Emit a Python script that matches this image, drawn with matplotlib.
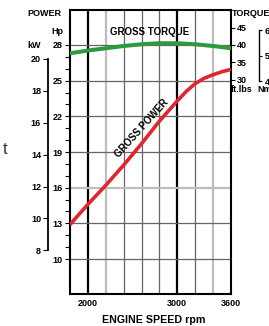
import matplotlib
matplotlib.use("Agg")
import matplotlib.pyplot as plt

plt.rcParams['font.family'] = ['Liberation Sans', 'DejaVu Sans']
plt.rcParams['font.weight'] = 'bold'

# data
power_rpm = [1800, 2000, 2200, 2400, 2600, 2800, 3000, 3100, 3200, 3300, 3400, 3500, 3600]
power_hp = [12.9, 14.6, 16.2, 17.9, 19.7, 21.6, 23.3, 24.1, 24.75, 25.2, 25.5, 25.75, 25.95]
torque_rpm = [1800, 2000, 2200, 2400, 2600, 2800, 3000, 3200, 3400, 3600]
torque_ftlb = [37.6, 38.4, 39.05, 39.7, 40.2, 40.5, 40.5, 40.2, 39.7, 39.05]

rpm_ticks = [2000, 3000, 3600]
hp_ticks = [10, 13, 16, 19, 22, 25, 28]
kw_ticks = [8, 10, 12, 14, 16, 18, 20]
ftlb_ticks = [30, 35, 40, 45]
nm_ticks = [40, 50, 60]
nm_labels = ['40', '50', '60']

grid_black = [2000, 3000]
grid_light = [2200, 3400]
grid_dark = [2400, 2600, 2800, 3200]

W, H = 269, 326
fig = plt.figure(figsize=(W / 100, H / 100), dpi=100)
ax = fig.add_axes([70 / W, 32 / H, 161 / W, 284 / H])

hp_lim = (7.06, 30.94)
ax.set_xlim(1800, 3600)
ax.set_ylim(*hp_lim)

# grid
for x in grid_dark:
    ax.axvline(x, color='#666666', lw=0.9, zorder=1)
for x in grid_light:
    ax.axvline(x, color='#bdbdbd', lw=1.6, zorder=1)
for x in grid_black:
    ax.axvline(x, color='black', lw=1.6, zorder=1)
for y in hp_ticks:
    if y == 16:
        ax.axhline(y, color='#bdbdbd', lw=1.6, zorder=1)
    else:
        ax.axhline(y, color='#666666', lw=0.9, zorder=1)

ax.plot(power_rpm, power_hp, color='#e0262e', lw=2.6, zorder=3, solid_capstyle='butt')

for s in ax.spines.values():
    s.set_linewidth(1.5)

ax.set_xticks(rpm_ticks)
ax.set_xticklabels([str(r) for r in rpm_ticks], fontsize=6.5, fontweight='bold')
ax.tick_params(axis='x', length=0, pad=3.5)

ax.set_yticks(hp_ticks)
ax.set_yticks(range(10, 29), minor=True)
ax.set_yticklabels([str(v) for v in hp_ticks], fontsize=6.5, fontweight='bold')
ax.tick_params(axis='y', which='both', direction='out', length=3.5, width=0.8, pad=2)

ax.set_xlabel('ENGINE SPEED rpm', fontsize=7.7, fontweight='bold')
ax.xaxis.label.set_va('center')
ax.xaxis.set_label_coords((154 - 70) / 161, -(320 - 294) / 284)

# torque axis (ft.lbs)
tq = ax.twinx()
tq_lim = (40 + (hp_lim[0] - 28) * 3.432, 40 + (hp_lim[1] - 28) * 3.432)
tq.set_ylim(*tq_lim)
tq.plot(torque_rpm, torque_ftlb, color='#2e9a3e', lw=2.9, zorder=4, solid_capstyle='butt')
tq.set_yticks(ftlb_ticks)
tq.set_yticklabels([str(v) for v in ftlb_ticks], fontsize=6.5, fontweight='bold')
tq.tick_params(axis='y', direction='out', length=3, width=0.8, pad=1.5)
for s in tq.spines.values():
    s.set_visible(False)

# kW axis
kw = ax.twinx()
kw.set_ylim(hp_lim[0] * 0.7457, hp_lim[1] * 0.7457)
for s in kw.spines.values():
    s.set_visible(False)
kw.spines['left'].set_visible(True)
kw.spines['left'].set_position(('axes', (48 - 70) / 161))
kw.spines['left'].set_bounds(8, 20)
kw.spines['left'].set_linewidth(1.3)
kw.yaxis.set_ticks_position('left')
kw.set_yticks(kw_ticks)
kw.set_yticklabels([str(v) for v in kw_ticks], fontsize=6.5, fontweight='bold')
kw.tick_params(axis='y', direction='out', length=3.5, width=0.8, pad=1.5)

# Nm axis (cut by the right edge, as in the original)
nm = ax.twinx()
nm.set_ylim(tq_lim[0] * 1.3558, tq_lim[1] * 1.3558)
for s in nm.spines.values():
    s.set_visible(False)
nm.spines['right'].set_visible(True)
nm.spines['right'].set_position(('axes', (259 - 70) / 161))
nm.spines['right'].set_bounds(40, 60)
nm.spines['right'].set_linewidth(1.0)
nm.set_yticks(nm_ticks)
nm.set_yticklabels(nm_labels, fontsize=6.5, fontweight='bold')
nm.tick_params(axis='y', direction='out', length=2.5, width=0.8, pad=1.5)

# curve labels
ax.text(2694, 29.05, 'GROSS TORQUE', fontsize=7, fontweight='bold', ha='center', va='center', zorder=5)
ax.text(2600, 21.0, 'GROSS POWER', fontsize=7, fontweight='bold', ha='center', va='center',
        rotation=48, zorder=5)

# axis titles
def px(x, y, s, **kw_):
    fig.text(x / W, 1 - y / H, s, fontsize=6.5, fontweight='bold', va='center', **kw_)

px(27, 14, 'POWER')
px(51, 32, 'Hp')
px(27, 46, 'kW')
px(232, 14, 'TORQUE')
px(231, 90, 'ft.lbs')
px(257, 90, 'Nm')
fig.text(3 / W, 1 - 149 / H, 't', fontsize=12, fontweight='normal', color='#333333', va='center')

fig.savefig('out.png', dpi=100)
